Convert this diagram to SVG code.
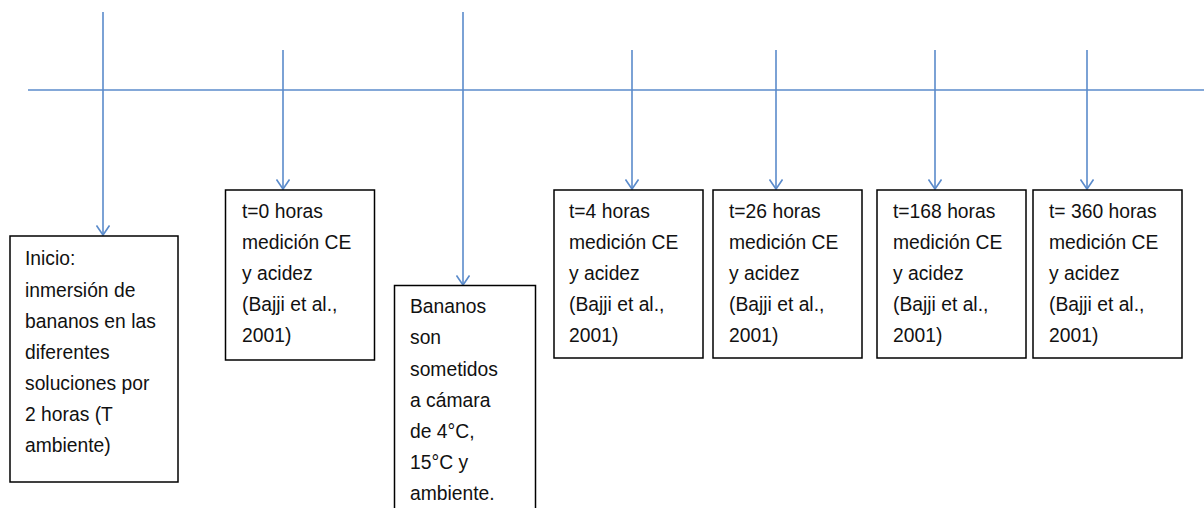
<svg xmlns="http://www.w3.org/2000/svg" width="1204" height="508" viewBox="0 0 1204 508">
<style>
.ln{stroke:#5b8bcb;stroke-width:1.6;fill:none}
.bx{fill:#fff;stroke:#000;stroke-width:1.5}
text{font-family:"Liberation Sans",Arial,sans-serif;font-size:19.3px;fill:#111}
</style>
<defs>
<marker id="ah" markerWidth="14" markerHeight="14" refX="12.5" refY="7" orient="auto" markerUnits="userSpaceOnUse" viewBox="0 0 14 14">
<polyline points="3,0.5 12.5,7 3,13.5" fill="none" stroke="#5b8bcb" stroke-width="1.6"/>
</marker>
</defs>
<rect width="1204" height="508" fill="#fff"/>
<g id="connectors">
<line class="ln" x1="28" y1="90" x2="1204" y2="90"/>
<line class="ln" x1="103" y1="12" x2="103" y2="235" marker-end="url(#ah)"/>
<line class="ln" x1="283" y1="50" x2="283" y2="189" marker-end="url(#ah)"/>
<line class="ln" x1="463" y1="12" x2="463" y2="285" marker-end="url(#ah)"/>
<line class="ln" x1="632" y1="50" x2="632" y2="189" marker-end="url(#ah)"/>
<line class="ln" x1="776" y1="50" x2="776" y2="189" marker-end="url(#ah)"/>
<line class="ln" x1="935" y1="50" x2="935" y2="189" marker-end="url(#ah)"/>
<line class="ln" x1="1087" y1="50" x2="1087" y2="189" marker-end="url(#ah)"/>
</g>
<g id="n1">
<rect class="bx" x="10" y="236" width="168" height="246"/>
<text x="25" y="265">Inicio:</text>
<text x="25" y="297">inmersión de</text>
<text x="25" y="328">bananos en las</text>
<text x="25" y="359">diferentes</text>
<text x="25" y="390">soluciones por</text>
<text x="25" y="421">2 horas (T</text>
<text x="25" y="452">ambiente)</text>
</g>
<g id="n2">
<rect class="bx" x="225.5" y="190" width="149" height="170"/>
<text x="242" y="218">t=0 horas</text>
<text x="242" y="249">medición CE</text>
<text x="242" y="280">y acidez</text>
<text x="242" y="311">(Bajji et al.,</text>
<text x="242" y="342">2001)</text>
</g>
<g id="n3">
<rect class="bx" x="394.5" y="285.5" width="141" height="230"/>
<text x="410" y="313">Bananos</text>
<text x="410" y="344">son</text>
<text x="410" y="376">sometidos</text>
<text x="410" y="407">a cámara</text>
<text x="410" y="438">de 4°C,</text>
<text x="410" y="469">15°C y</text>
<text x="410" y="500">ambiente.</text>
</g>
<g id="n4">
<rect class="bx" x="554" y="190" width="149" height="168"/>
<text x="569" y="218">t=4 horas</text>
<text x="569" y="249">medición CE</text>
<text x="569" y="280">y acidez</text>
<text x="569" y="311">(Bajji et al.,</text>
<text x="569" y="342">2001)</text>
</g>
<g id="n5">
<rect class="bx" x="713" y="190" width="149" height="168"/>
<text x="729" y="218">t=26 horas</text>
<text x="729" y="249">medición CE</text>
<text x="729" y="280">y acidez</text>
<text x="729" y="311">(Bajji et al.,</text>
<text x="729" y="342">2001)</text>
</g>
<g id="n6">
<rect class="bx" x="877" y="190" width="149" height="168"/>
<text x="893" y="218">t=168 horas</text>
<text x="893" y="249">medición CE</text>
<text x="893" y="280">y acidez</text>
<text x="893" y="311">(Bajji et al.,</text>
<text x="893" y="342">2001)</text>
</g>
<g id="n7">
<rect class="bx" x="1033" y="190" width="149" height="168"/>
<text x="1049" y="218">t= 360 horas</text>
<text x="1049" y="249">medición CE</text>
<text x="1049" y="280">y acidez</text>
<text x="1049" y="311">(Bajji et al.,</text>
<text x="1049" y="342">2001)</text>
</g>
</svg>
